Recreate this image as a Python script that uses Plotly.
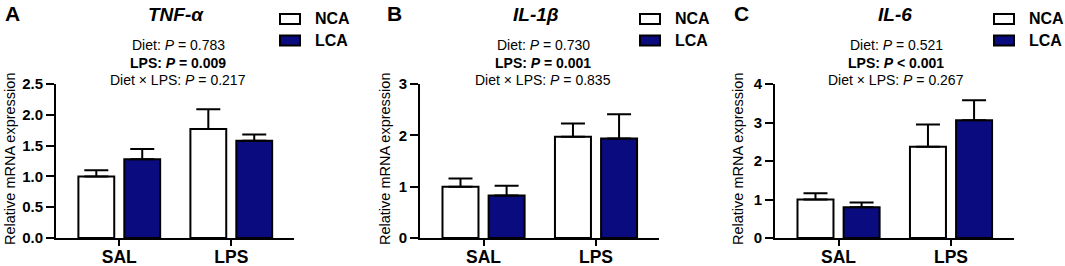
import plotly.graph_objects as go

# ---------------- data ----------------
categories = ["SAL", "LPS"]
groups = ["NCA", "LCA"]

tnf_nca = [1.00, 1.77]
tnf_nca_err = [0.10, 0.32]
tnf_lca = [1.28, 1.58]
tnf_lca_err = [0.165, 0.10]

il1b_nca = [1.00, 1.97]
il1b_nca_err = [0.16, 0.26]
il1b_lca = [0.83, 1.94]
il1b_lca_err = [0.19, 0.47]

il6_nca = [1.00, 2.37]
il6_nca_err = [0.16, 0.58]
il6_lca = [0.80, 3.06]
il6_lca_err = [0.12, 0.52]

panel_letters = ["A", "B", "C"]
gene_titles = ["TNF-α", "IL-1β", "IL-6"]
p_diet = ["0.783", "0.730", "0.521"]
p_lps = ["= 0.009", "= 0.001", "< 0.001"]
p_inter = ["0.217", "0.835", "0.267"]
y_max = [2.5, 3, 4]
y_dtick = [0.5, 1, 1]
y_fmt = [".1f", "d", "d"]

# ---------------- style / layout ----------------
W, H = 1065, 266
FONT = "Arial, Liberation Sans, sans-serif"
NAVY = "#0b0b80"
fill_colors = ["white", NAVY]

axis_px = [(56, 294), (420, 659), (775, 1014)]   # x-domain in pixels
y_top_px, y_bot_px = 84, 238
ytitle_off = [46, 35, 37]
title_cx = [176, 536, 895]
ptext_cx = [178, 543, 896]
letter_x = [3, 385, 732]
legend_box_x = [280, 640, 994]

panels = [
    [(tnf_nca, tnf_nca_err), (tnf_lca, tnf_lca_err)],
    [(il1b_nca, il1b_nca_err), (il1b_lca, il1b_lca_err)],
    [(il6_nca, il6_nca_err), (il6_lca, il6_lca_err)],
]

bar_w = 0.32
offsets = [-0.365, 0.045]

fig = go.Figure()
layout_axes = {}
annotations = []
shapes = []

def px_x(p):
    return p / W

def px_y(p):
    return 1 - p / H

for i, series in enumerate(panels):
    xa = "x" if i == 0 else f"x{i+1}"
    ya = "y" if i == 0 else f"y{i+1}"
    for g, (vals, errs) in enumerate(series):
        fig.add_trace(go.Bar(
            x=categories, y=vals, name=groups[g],
            xaxis=xa, yaxis=ya,
            width=bar_w, offset=offsets[g],
            marker=dict(color=fill_colors[g], line=dict(color="black", width=2)),
            error_y=dict(type="data", array=errs, arrayminus=[0] * len(errs),
                         symmetric=False, color="black", thickness=2, width=12),
            showlegend=False, hoverinfo="skip",
        ))
    x0, x1 = axis_px[i]
    kx = "xaxis" if i == 0 else f"xaxis{i+1}"
    ky = "yaxis" if i == 0 else f"yaxis{i+1}"
    layout_axes[kx] = dict(
        domain=[px_x(x0), px_x(x1)], anchor=ya, type="category",
        range=[-0.565, 1.56], showline=True, linecolor="black", linewidth=2,
        ticks="outside", ticklen=6, tickwidth=2, tickcolor="black",
        ticklabelstandoff=-4,
        tickfont=dict(family=FONT, size=17.5, color="black", weight="bold"),
        showgrid=False, zeroline=False, fixedrange=True, automargin=False,
    )
    layout_axes[ky] = dict(
        domain=[px_y(y_bot_px), px_y(y_top_px)], anchor=xa,
        range=[0, y_max[i]], dtick=y_dtick[i], tick0=0, tickformat=y_fmt[i],
        showline=True, linecolor="black", linewidth=2,
        ticks="outside", ticklen=8, tickwidth=2, tickcolor="black",
        tickfont=dict(family=FONT, size=15, color="black", weight="bold"),
        showgrid=False, zeroline=False, fixedrange=True, automargin=False,
    )
    # y-axis title
    annotations.append(dict(
        text="Relative mRNA expression", x=px_x(x0 - ytitle_off[i]),
        y=px_y((y_top_px + y_bot_px) / 2 - 2),
        xref="paper", yref="paper", xanchor="center", yanchor="middle", textangle=-90,
        showarrow=False, font=dict(family=FONT, size=14.5, color="black")))

    # panel letter
    annotations.append(dict(
        text=f"<b>{panel_letters[i]}</b>", x=px_x(letter_x[i]), y=px_y(0),
        xref="paper", yref="paper", xanchor="left", yanchor="top", showarrow=False,
        font=dict(family=FONT, size=21, color="black")))
    # gene title
    annotations.append(dict(
        text=f"<b><i>{gene_titles[i]}</i></b>", x=px_x(title_cx[i]), y=px_y(15),
        xref="paper", yref="paper", xanchor="center", yanchor="middle", showarrow=False,
        font=dict(family=FONT, size=19, color="black")))
    # p-value lines
    lines = [
        f"Diet: <i>P</i> = {p_diet[i]}",
        f"<b>LPS: <i>P</i> {p_lps[i]}</b>",
        f"Diet × LPS: <i>P</i> = {p_inter[i]}",
    ]
    for k, (txt, yy) in enumerate(zip(lines, [45, 62.5, 80])):
        annotations.append(dict(
            text=txt, x=px_x(ptext_cx[i]), y=px_y(yy),
            xref="paper", yref="paper", xanchor="center", yanchor="middle",
            showarrow=False, font=dict(family=FONT, size=14, color="black")))
    # legend
    for g, yc in enumerate([19, 40.5]):
        bx = legend_box_x[i]
        shapes.append(dict(
            type="rect", xref="paper", yref="paper",
            x0=px_x(bx), x1=px_x(bx + 20), y0=px_y(yc + 5), y1=px_y(yc - 5),
            fillcolor=fill_colors[g], line=dict(color="black", width=2)))
        annotations.append(dict(
            text=f"<b>{groups[g]}</b>", x=px_x(bx + 33), y=px_y(yc),
            xref="paper", yref="paper", xanchor="left", yanchor="middle",
            showarrow=False, font=dict(family=FONT, size=16, color="black")))

fig.update_layout(
    width=W, height=H,
    margin=dict(l=0, r=0, t=0, b=0, pad=0),
    paper_bgcolor="white", plot_bgcolor="white",
    barmode="overlay",
    annotations=annotations, shapes=shapes,
    font=dict(family=FONT, color="black"),
    **layout_axes,
)

fig.write_html(
    "out.html",
    config={"displayModeBar": False, "staticPlot": True},
    post_script="document.body.style.margin='0';document.body.style.padding='0';"
                "document.body.style.overflow='hidden';",
)
